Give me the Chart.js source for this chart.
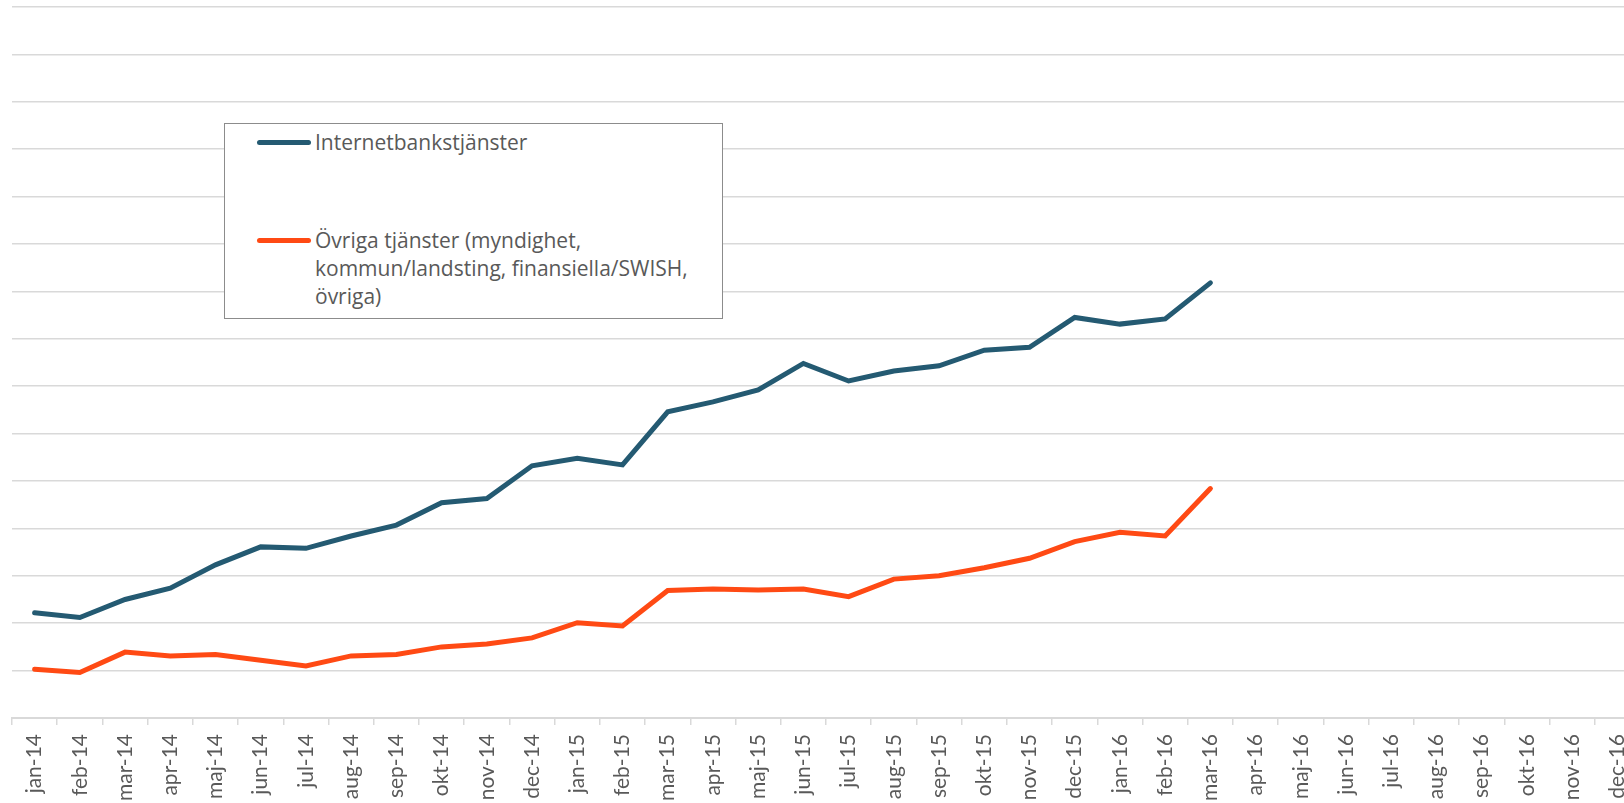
<!DOCTYPE html>
<html>
<head>
<meta charset="utf-8">
<script src="https://cdn.jsdelivr.net/npm/chart.js@4"></script>
<style>
  html, body { margin: 0; padding: 0; overflow: hidden; background: #fff; }
  #wrap { position: relative; width: 1624px; height: 803px; overflow: hidden; }
  #legend {
    position: absolute; left: 224px; top: 123px; width: 499px; height: 196px;
    border: 1.5px solid #8c8c8c; box-sizing: border-box; background: #fff;
    font-family: "Open Sans", Lato, sans-serif; font-size: 21px; color: #595959;
  }
  .item { position: absolute; left: 32px; width: 460px; line-height: 28px; }
  .swatch { position: absolute; left: 0; width: 54px; height: 5px; border-radius: 3px; top: 12px; }
  .txt { margin-left: 58px; width: 400px; }
</style>
</head>
<body>
<div id="wrap">
  <canvas id="chart" width="1640" height="840"></canvas>
  <div id="legend"></div>
</div>
<script>
// kategorier (månader)
const months = [
  'jan-14', 'feb-14', 'mar-14', 'apr-14', 'maj-14', 'jun-14', 'jul-14', 'aug-14', 'sep-14', 'okt-14', 'nov-14', 'dec-14',
  'jan-15', 'feb-15', 'mar-15', 'apr-15', 'maj-15', 'jun-15', 'jul-15', 'aug-15', 'sep-15', 'okt-15', 'nov-15', 'dec-15',
  'jan-16', 'feb-16', 'mar-16', 'apr-16', 'maj-16', 'jun-16', 'jul-16', 'aug-16', 'sep-16', 'okt-16', 'nov-16', 'dec-16'
];

// värden (enhet = ett rutnätssteg)
const internetbank = [
  2.22, 2.12, 2.50, 2.74, 3.23, 3.61, 3.58, 3.84, 4.07, 4.54, 4.63, 5.32,
  5.48, 5.34, 6.46, 6.67, 6.92, 7.48, 7.11, 7.32, 7.43, 7.76, 7.82, 8.45,
  8.31, 8.42, 9.18
];
const ovriga = [
  1.03, 0.96, 1.39, 1.31, 1.34, 1.22, 1.10, 1.31, 1.34, 1.50, 1.56, 1.69,
  2.01, 1.94, 2.69, 2.72, 2.70, 2.72, 2.56, 2.93, 3.00, 3.17, 3.37, 3.72,
  3.92, 3.84, 4.84
];

const seriesNames = [
  'Internetbankstjänster',
  'Övriga tjänster (myndighet, kommun/landsting, finansiella/SWISH, övriga)'
];
const seriesColors = ['#245a72', '#ff4a14'];

const gridColor = '#d9d9d9';
const textColor = '#595959';

const ctx = document.getElementById('chart').getContext('2d');
const chart = new Chart(ctx, {
    type: 'line',
    data: {
        labels: months,
        datasets: [
            { label: seriesNames[0], data: internetbank },
            { label: seriesNames[1], data: ovriga }
        ].map((d, i) => Object.assign(d, {
            borderColor: seriesColors[i],
            backgroundColor: seriesColors[i],
            borderWidth: 5,
            borderCapStyle: 'round',
            pointRadius: 0,
            tension: 0,
            fill: false
        }))
    },
    options: {
        responsive: false,
        animation: false,
        layout: { padding: { left: 12, top: 7, right: 0, bottom: 0 } },
        plugins: {
            legend: { display: false },
            tooltip: { enabled: false }
        },
        scales: {
            x: {
                offset: true,
                grid: {
                    offset: true,
                    drawOnChartArea: false,
                    drawTicks: true,
                    tickLength: 7,
                    color: gridColor,
                    lineWidth: 1.5
                },
                border: { color: gridColor, width: 2 },
                ticks: {
                    autoSkip: false,
                    minRotation: 90,
                    maxRotation: 90,
                    padding: 9,
                    color: textColor,
                    font: { family: 'Lato, "Open Sans", sans-serif', size: 21 }
                },
                afterFit: (scale) => {
                    scale.height = 840 - 718;
                    scale.paddingLeft = 0;
                    scale.paddingRight = 0;
                }
            },
            y: {
                min: 0,
                max: 15,
                ticks: { display: false, stepSize: 1 },
                border: { display: false },
                grid: { color: gridColor, lineWidth: 1.5, drawTicks: false },
                afterFit: (scale) => { scale.width = 0; }
            }
        }
    }
});

// egen legend i en ruta
const legendBox = document.getElementById('legend');
const itemTops = [4, 102];
chart.data.datasets.forEach((ds, i) => {
    const item = document.createElement('div');
    item.className = 'item';
    item.style.top = itemTops[i] + 'px';
    const sw = document.createElement('span');
    sw.className = 'swatch';
    sw.style.background = ds.borderColor;
    const t = document.createElement('div');
    t.className = 'txt';
    t.textContent = ds.label;
    item.appendChild(sw);
    item.appendChild(t);
    legendBox.appendChild(item);
});
</script>
</body>
</html>
